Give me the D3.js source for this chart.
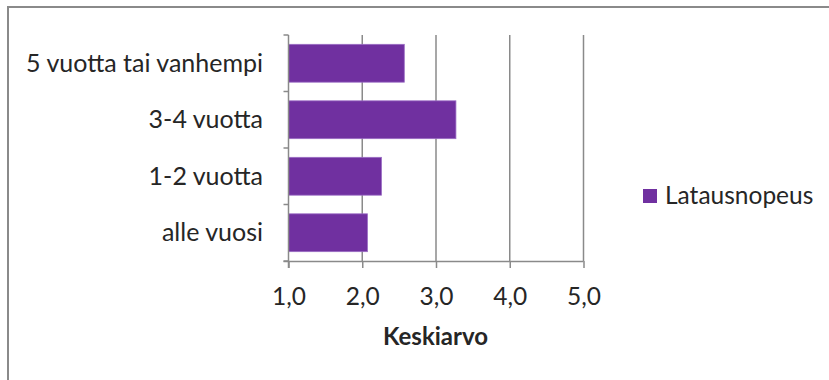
<!DOCTYPE html>
<html>
<head>
<meta charset="utf-8">
<script src="https://cdn.jsdelivr.net/npm/d3@7"></script>
<style>
  html, body { margin: 0; padding: 0; background: #fff; }
  svg { display: block; }
  text { font-family: Lato, "Open Sans", sans-serif; fill: #262626; }
</style>
</head>
<body>
<svg id="chart" width="829" height="380"></svg>
<script>
// Age groups, listed top to bottom
const categories = ["5 vuotta tai vanhempi", "3-4 vuotta", "1-2 vuotta", "alle vuosi"];
// Mean rating of loading speed per group
const values = [2.57, 3.27, 2.26, 2.07];
const seriesName = "Latausnopeus";
const xTicks = [1, 2, 3, 4, 5];
const xTitle = "Keskiarvo";

const svg = d3.select("#chart");
const W = 829, H = 380;
const plot = { left: 288.5, right: 583.5, top: 35, bottom: 261 };
const purple = "#7030A0";
const gray = "#8a8a8a";
const fs = 24.5;

// outer frame
svg.append("rect")
  .attr("x", 8).attr("y", 7)
  .attr("width", W + 10).attr("height", H + 10)
  .attr("fill", "none").attr("stroke", gray).attr("stroke-width", 2);

const x = d3.scaleLinear().domain([1, 5]).range([plot.left, plot.right]);
const y = d3.scaleBand().domain(categories).range([plot.top, plot.bottom])
  .paddingInner(0.33).paddingOuter(0.165);

// vertical gridlines
svg.append("g").selectAll("line").data(xTicks.slice(1)).join("line")
  .attr("x1", d => x(d)).attr("x2", d => x(d))
  .attr("y1", plot.top).attr("y2", plot.bottom)
  .attr("stroke", gray).attr("stroke-width", 1.5);

// bars
svg.append("g").selectAll("rect").data(values).join("rect")
  .attr("x", x(1))
  .attr("y", (d, i) => y(categories[i]))
  .attr("width", d => x(d) - x(1))
  .attr("height", y.bandwidth())
  .attr("fill", purple)
  .attr("stroke", "#9a6cc4").attr("stroke-width", 0.8);

// x axis
const xAxis = svg.append("g")
  .attr("transform", `translate(0,${plot.bottom})`)
  .call(d3.axisBottom(x).tickValues(xTicks).tickSize(7)
    .tickFormat(d => d3.format(".1f")(d).replace(".", ",")));
xAxis.select(".domain").attr("stroke", gray).attr("stroke-width", 1.5)
  .attr("d", `M${plot.left - 5},0.5H${plot.right}`);
xAxis.selectAll(".tick line").attr("stroke", gray).attr("stroke-width", 1.5);
xAxis.selectAll(".tick text")
  .attr("y", 44).attr("dy", 0)
  .attr("font-size", fs).attr("fill", "#262626")
  .style("font-family", "Lato, sans-serif");

// y axis: category boundaries marked by ticks
const yAxisG = svg.append("g");
yAxisG.append("line")
  .attr("x1", plot.left).attr("x2", plot.left)
  .attr("y1", plot.top).attr("y2", plot.bottom + 7)
  .attr("stroke", gray).attr("stroke-width", 1.5);
const bounds = categories.map(c => y(c) - y.step() * y.paddingInner() / 2).concat([plot.bottom]);
yAxisG.selectAll("line.tk").data(bounds).join("line").attr("class", "tk")
  .attr("x1", plot.left - 5).attr("x2", plot.left)
  .attr("y1", d => d).attr("y2", d => d)
  .attr("stroke", gray).attr("stroke-width", 1.5);
yAxisG.selectAll("text").data(categories).join("text")
  .attr("x", 263)
  .attr("y", d => y(d) + y.bandwidth() / 2 + 8.5)
  .attr("text-anchor", "end")
  .attr("font-size", 25)
  .text(d => d);

// axis title
svg.append("text")
  .attr("x", 435.5).attr("y", 345)
  .attr("text-anchor", "middle")
  .attr("font-size", 24).attr("font-weight", "bold")
  .text(xTitle);

// legend
const lg = svg.append("g").attr("transform", "translate(643,189)");
lg.append("rect").attr("width", 14).attr("height", 14).attr("fill", purple);
lg.append("text").attr("x", 22).attr("y", 15).attr("font-size", fs).text(seriesName);
</script>
</body>
</html>
